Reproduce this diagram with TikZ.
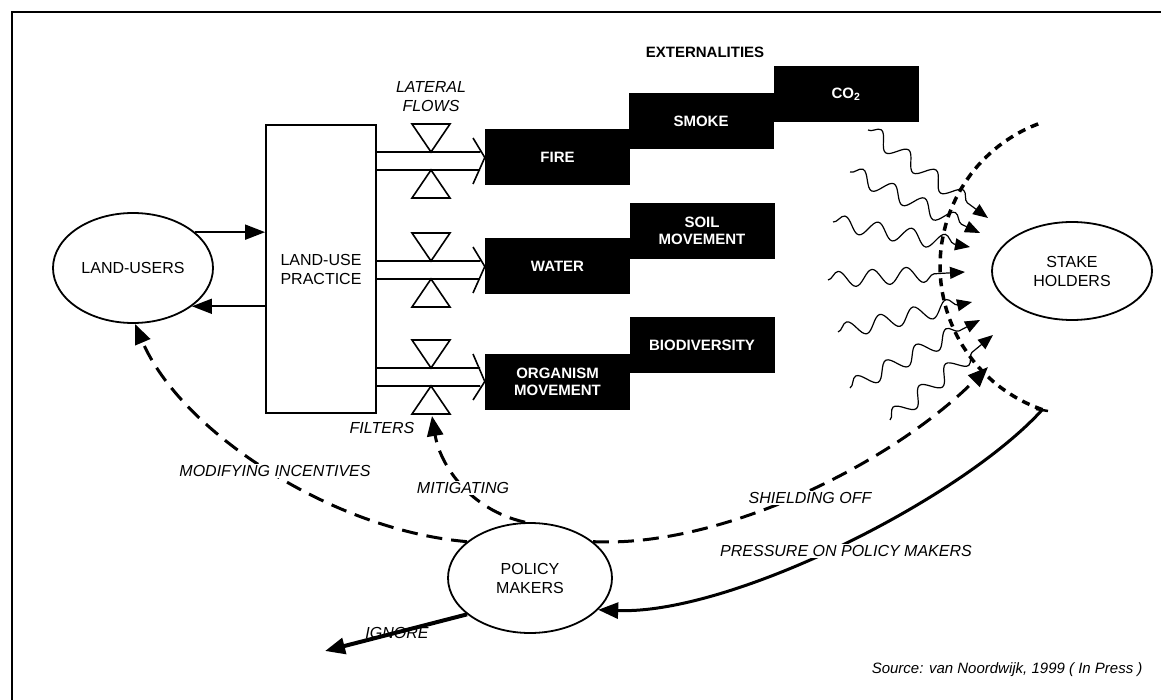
\documentclass[tikz,border=0pt]{standalone}
\usepackage{fontspec}
\setmainfont{Liberation Sans}
\usetikzlibrary{arrows.meta,shapes.geometric,decorations.pathmorphing}

\begin{document}
\begin{tikzpicture}[x=1pt,y=-1pt,
  box/.style={fill=black,text=white,font=\bfseries\fontsize{15}{17}\selectfont,minimum width=145pt,minimum height=56pt,inner sep=0pt,align=center},
  actor/.style={draw,ellipse,line width=1.8pt,font=\fontsize{16}{19}\selectfont,align=center,inner sep=0pt},
  lbl/.style={font=\itshape\fontsize{16}{19}\selectfont,inner sep=1pt},
  bigtip/.style={-{Triangle[length=20pt,width=16pt]}},
  brokenline/.style={line width=3pt,dash pattern=on 16pt off 9pt},
  screenline/.style={line width=3.5pt,dash pattern=on 8pt off 6pt},
  wave/.style={line width=1.2pt,decorate,decoration={snake,amplitude=8pt,segment length=34pt,post length=14pt},-{Triangle[length=15pt,width=12pt]}}]
\useasboundingbox (0,0) rectangle (1161,700);
\draw[line width=1.2pt] (12,700) -- (12,12) -- (1161,12);

\node[actor,minimum width=160pt,minimum height=110pt] (landusers) at (133,268) {LAND-USERS};
\node[draw,line width=1.8pt,minimum width=110pt,minimum height=288pt,font=\fontsize{16}{19}\selectfont,align=center] (practice) at (321,269) {LAND-USE\\PRACTICE};
\node[actor,minimum width=160pt,minimum height=98pt] (stake) at (1072,271) {STAKE\\HOLDERS};
\node[actor,minimum width=164pt,minimum height=110pt] (policy) at (530,578) {POLICY\\MAKERS};

\node[box] (fire) at (557.5,157.5) {FIRE};
\node[box] (smoke) at (701,121) {SMOKE};
\node[box] (co2) at (846,94) {CO\textsubscript{2}};
\node[box] (water) at (557.5,266.5) {WATER};
\node[box] (soil) at (702,231) {SOIL\\MOVEMENT};
\node[box] (organism) at (557.5,381.5) {ORGANISM\\MOVEMENT};
\node[box] (biodiv) at (702,345) {BIODIVERSITY};

\node[font=\bfseries\fontsize{15}{17}\selectfont] (ext) at (705,52) {EXTERNALITIES};
\node[lbl,align=center] (lateral) at (431,97) {LATERAL\\FLOWS};
\node[lbl] (filters) at (382,428) {FILTERS};

\draw[line width=1.8pt,-{Triangle[length=20pt,width=15pt]}] (landusers.30) -- (landusers.30 -| practice.west);
\draw[line width=1.8pt,-{Triangle[length=20pt,width=15pt]}] (landusers.-33 -| practice.west) -- (landusers.-33);

\draw[line width=1.6pt] (practice.east |- 0,152) -- (480,152) (practice.east |- 0,170) -- (480,170) (473,138) -- (fire.west) -- (473,184);
\draw[line width=1.6pt,fill=white] (412,124) -- (450,124) -- (431,152) -- cycle (431,170) -- (412,198) -- (450,198) -- cycle;
\draw[line width=1.6pt] (practice.east |- 0,261) -- (480,261) (practice.east |- 0,279) -- (480,279) (473,247) -- (water.west) -- (473,293);
\draw[line width=1.6pt,fill=white] (412,233) -- (450,233) -- (431,261) -- cycle (431,279) -- (412,307) -- (450,307) -- cycle;
\draw[line width=1.6pt] (practice.east |- 0,368) -- (480,368) (practice.east |- 0,386) -- (480,386) (473,354) -- (organism.west) -- (473,400);
\draw[line width=1.6pt,fill=white] (412,340) -- (450,340) -- (431,368) -- cycle (431,386) -- (412,414) -- (450,414) -- cycle;

\draw[wave] (868,130) -- (988,218);
\draw[wave] (850,172) -- (980,233);
\draw[wave] (833,222) -- (970,247);
\draw[wave] (828,280) -- (965,272);
\draw[wave] (838,332) -- (972,302);
\draw[wave] (850,388) -- (980,320);
\draw[wave] (890,420) -- (993,335);

\draw[screenline] plot[domain=109:250,samples=40] ({1092+152*cos(\x)},{266+152*sin(\x)});
\coordinate (screenend) at (1042,410);
\draw[line width=2.5pt] (1036,409) -- (1048,411);

\coordinate (filterbase) at (432,416);
\coordinate (shieldend) at (988,367);
\coordinate (ignoreend) at (325,651);

\draw[brokenline,bigtip] (policy.150) .. controls (330,530) and (180,430) .. (landusers.-88);
\draw[brokenline,bigtip] (policy.95) .. controls (470,510) and (440,465) .. (filterbase);
\draw[brokenline,bigtip] (policy.30) .. controls (720,548) and (890,465) .. (shieldend);
\draw[line width=3pt,bigtip] (screenend) .. controls (960,500) and (730,615) .. (policy.-25);

\node[lbl] (ignore) at (397,633) {IGNORE};
\draw[line width=4pt,bigtip] (policy.210) -- (ignoreend);

\node[lbl,fill=white] (modify) at (275,471) {MODIFYING INCENTIVES};
\node[lbl,fill=white] (mitigate) at (463,488) {MITIGATING};
\node[lbl,fill=white] (shield) at (810,498) {SHIELDING OFF};
\node[lbl,fill=white] (pressure) at (846,551) {PRESSURE ON POLICY MAKERS};

\node[font=\itshape\fontsize{15}{18}\selectfont,anchor=east] (source) at (1146,670) {Source: van Noordwijk, 1999 ( In Press )};
\end{tikzpicture}
\end{document}
